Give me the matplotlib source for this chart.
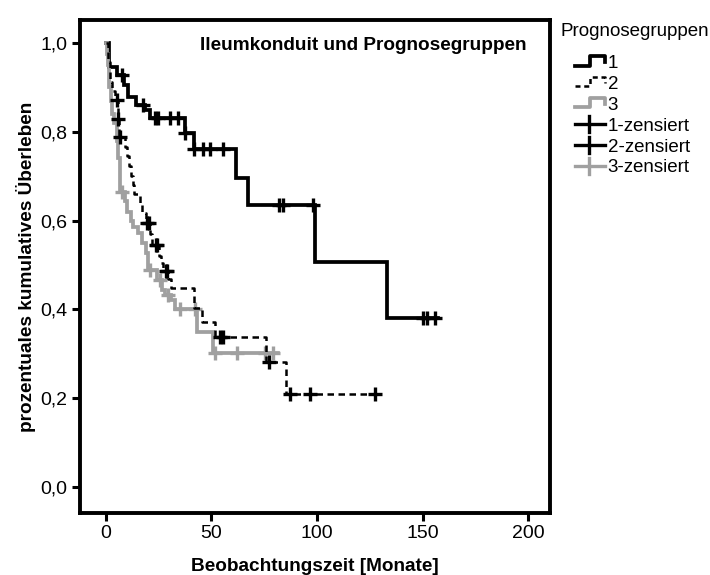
import numpy as np
import matplotlib.pyplot as plt
from matplotlib.lines import Line2D
from matplotlib.legend_handler import HandlerBase

plt.rcParams['font.family'] = ['Liberation Sans', 'DejaVu Sans']

# Kaplan-Meier step data (time in months, survival after step)
times1 = [0, 1.5, 5, 8.5, 10.5, 14, 18.5, 21, 37.4, 41.5, 61.5, 67.5, 99, 133]
surv1 = [1.0, 0.946, 0.929, 0.905, 0.879, 0.860, 0.849, 0.832, 0.797, 0.762, 0.697, 0.634, 0.507, 0.380]
end1 = 157.5
cens1 = [7.5, 17.7, 23.2, 24.6, 30.3, 34.1, 37.6, 41.8, 46.1, 49.3, 55.6, 82.1, 84, 98.3, 150, 152, 156]

times2 = [0, 1, 2, 3, 4.5, 5.5, 6.2, 9, 10, 11, 12, 12.8, 13.5, 16, 17, 19, 21, 22,
          25, 26, 27, 29.5, 31, 41.7, 45.3, 51.7, 76, 85.3]
surv2 = [1.0, 0.957, 0.913, 0.893, 0.872, 0.830, 0.789, 0.766, 0.745, 0.723, 0.700, 0.680, 0.661,
         0.640, 0.617, 0.594, 0.570, 0.545, 0.520, 0.505, 0.486, 0.468, 0.447, 0.404, 0.372,
         0.337, 0.281, 0.209]
end2 = 128.3
cens2 = [5.1, 5.8, 6.6, 19.6, 20.3, 23.5, 24.2, 28.4, 29.0, 54, 55.6, 77.2, 87.2, 96.7, 127.5]

times3 = [0, 0.5, 1, 1.5, 2.5, 3, 4, 5, 5.5, 6.5, 9, 10, 12, 13, 15, 17, 19, 20,
          24, 26.5, 28, 31, 32.5, 43, 50.9]
surv3 = [1.0, 0.975, 0.95, 0.90, 0.87, 0.84, 0.82, 0.78, 0.74, 0.665, 0.645, 0.620, 0.600,
         0.586, 0.572, 0.550, 0.527, 0.489, 0.466, 0.444, 0.432, 0.421, 0.400, 0.350, 0.301]
end3 = 81.7
cens3 = [7.4, 20.8, 25.6, 29.5, 35, 42.2, 51.7, 61.9, 75.4, 79]

xticks = [0, 50, 100, 150, 200]
yticks = [0.0, 0.2, 0.4, 0.6, 0.8, 1.0]
ytick_labels = ['0,0', '0,2', '0,4', '0,6', '0,8', '1,0']
legend_title = 'Prognosegruppen'
legend_labels = ['1', '2', '3', '1-zensiert', '2-zensiert', '3-zensiert']

gray = '#a0a0a0'


class StepHandler(HandlerBase):
    def __init__(self, color, lw, ls):
        super().__init__()
        self.color, self.lw, self.ls = color, lw, ls

    def create_artists(self, legend, orig, xd, yd, w, h, fontsize, trans):
        xs = [-xd, -xd + 0.5 * w, -xd + 0.5 * w, -xd + w, -xd + w]
        ys = [-yd + 0.2 * h, -yd + 0.2 * h, -yd + 0.9 * h, -yd + 0.9 * h, -yd + 0.45 * h]
        ln = Line2D(xs, ys, color=self.color, lw=self.lw, ls=self.ls, transform=trans)
        return [ln]


class CensorHandler(HandlerBase):
    def __init__(self, color):
        super().__init__()
        self.color = color

    def create_artists(self, legend, orig, xd, yd, w, h, fontsize, trans):
        a = Line2D([-xd, -xd + w], [-yd + 0.5 * h] * 2, color=self.color, lw=2.4, transform=trans)
        b = Line2D([-xd + 0.45 * w] * 2, [-yd - 0.1 * h, -yd + 1.1 * h], color=self.color, lw=2.4, transform=trans)
        return [a, b]


def km(ax, times, surv, end, cens, color, lw, ls, dashes=None):
    t = np.array(times + [end])
    s = np.array(surv + [surv[-1]])
    line, = ax.step(t, s, where='post', color=color, lw=lw, ls=ls, solid_joinstyle='miter')
    if dashes:
        line.set_dashes(dashes)
    idx = np.searchsorted(np.array(times), np.array(cens), side='right') - 1
    ax.plot(cens, np.array(surv)[idx], ls='none', marker='+', ms=10.5, mew=2.4, color=color)
    return line


fig = plt.figure(figsize=(7.1, 5.75), dpi=100)
ax = fig.add_axes([80 / 710, 1 - 513 / 575, 470 / 710, 493 / 575])

km(ax, times1, surv1, end1, cens1, 'black', 2.7, '-')
km(ax, times3, surv3, end3, cens3, gray, 2.7, '-')
km(ax, times2, surv2, end2, cens2, 'black', 1.8, '--', dashes=(2.6, 1.8))

ax.set_xlim(-12.3, 210.4)
ax.set_ylim(-0.059, 1.052)
ax.set_xticks(xticks)
ax.set_yticks(yticks)
ax.set_yticklabels(ytick_labels)
ax.tick_params(labelsize=14, length=6, width=2.2, direction='out', pad=3)
for sp in ax.spines.values():
    sp.set_linewidth(2.8)

ax.set_xlabel('Beobachtungszeit [Monate]', fontsize=13.7, fontweight='bold', labelpad=11)
ax.set_ylabel('prozentuales kumulatives Überleben', fontsize=13.7, fontweight='bold', labelpad=3)
ax.text(0.951, 0.949, 'Ileumkonduit und Prognosegruppen', transform=ax.transAxes,
        ha='right', va='center', fontsize=13.7, fontweight='bold')

fig.text(560 / 710, 1 - 31 / 575, legend_title, fontsize=13.5, ha='left', va='center')

handles = [Line2D([], []) for _ in range(6)]
hmap = {
    handles[0]: StepHandler('black', 2.7, '-'),
    handles[1]: StepHandler('black', 1.8, (0, (2, 1.5))),
    handles[2]: StepHandler(gray, 2.7, '-'),
    handles[3]: CensorHandler('black'),
    handles[4]: CensorHandler('black'),
    handles[5]: CensorHandler(gray),
}
leg = fig.legend(handles, legend_labels, handler_map=hmap,
                 loc='upper left', bbox_to_anchor=(575 / 710, 1 - 55 / 575), frameon=False,
                 fontsize=13.5, handlelength=1.6, handletextpad=0.15,
                 labelspacing=0.2, borderpad=0, borderaxespad=0)

fig.savefig('out.png', dpi=100)
